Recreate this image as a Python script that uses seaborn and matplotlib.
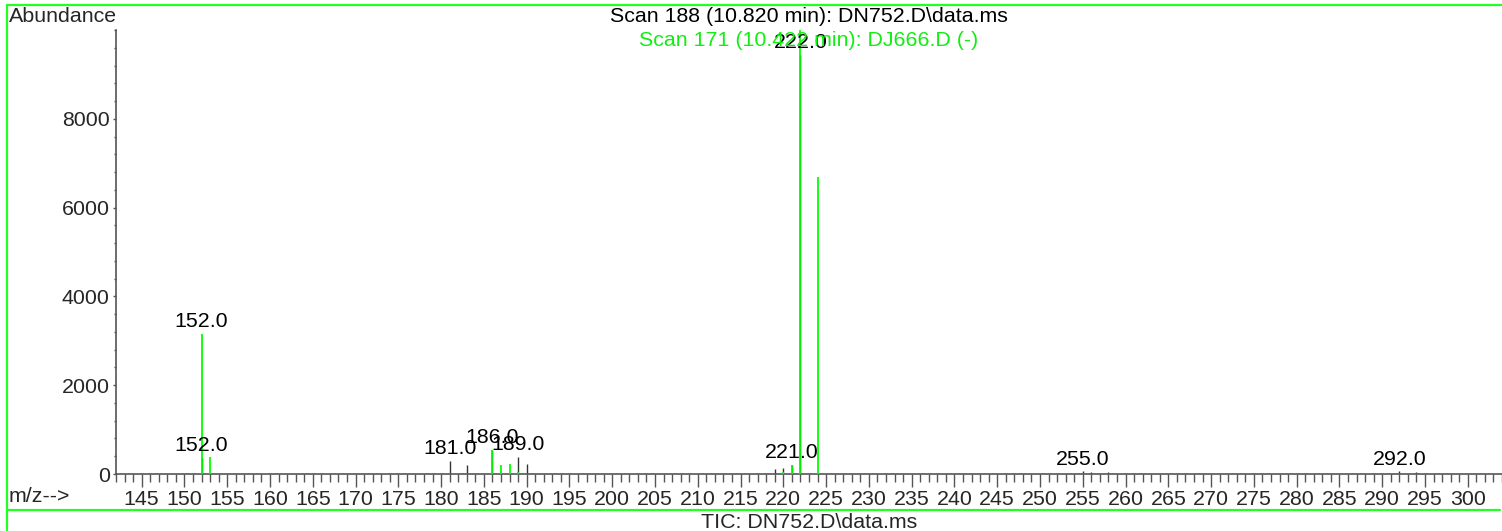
import numpy as np
import seaborn as sns
import matplotlib.pyplot as plt
from matplotlib.ticker import MultipleLocator
from matplotlib.lines import Line2D

# --- data ---
black_mz = [152, 181, 183, 186, 189, 190, 219, 220, 221, 222, 255, 256, 258, 292, 294]
black_ab = [370, 290, 200, 540, 380, 225, 110, 140, 210, 9440, 60, 55, 55, 60, 55]
green_mz = [152, 153, 186, 187, 188, 189, 220, 221, 222, 224]
green_ab = [3155, 383, 540, 195, 225, 50, 50, 210, 10600, 6690]

black_labels = [152, 181, 186, 189, 221, 222, 255, 292]
green_labels = [152]
y_ticks = [0, 2000, 4000, 6000, 8000]
x_ticks = np.arange(145, 301, 5)

title_main = "Scan 188 (10.820 min): DN752.D\\data.ms"
title_ref = "Scan 171 (10.422 min): DJ666.D (-)"
footer = "TIC: DN752.D\\data.ms"

sns.set_style("white")
plt.rcParams["font.family"] = ["Liberation Sans", "DejaVu Sans"]

W, H = 1502, 531
FS = 15.4
fig = plt.figure(figsize=(W / 100, H / 100), dpi=100)
ax = fig.add_axes([116 / W, (H - 474) / H, (W - 116) / W, (474 - 30) / H])

GREEN = "#00ff00"
DARK = "#333333"
AXC = "#555555"

ax.vlines(black_mz, 0, black_ab, color=DARK, lw=1.0, zorder=2)
ax.vlines(green_mz, 0, green_ab, color=GREEN, lw=1.3, zorder=3)

ax.set_xlim(142, 304)
ax.set_ylim(0, 10005)

ax.set_xticks(x_ticks)
ax.xaxis.set_minor_locator(MultipleLocator(1))
ax.set_yticks(y_ticks)
ax.yaxis.set_minor_locator(MultipleLocator(400))

ax.tick_params(axis="x", which="major", direction="out", length=9.5, width=1,
               color=AXC, labelsize=FS, pad=2, bottom=True)
ax.tick_params(axis="x", which="minor", direction="out", length=5.5, width=1,
               color=AXC, bottom=True)
ax.tick_params(axis="y", which="major", direction="out", length=2.5, width=1,
               color=AXC, labelsize=FS, pad=2, left=True)
ax.tick_params(axis="y", which="minor", direction="out", length=1.5, width=1,
               color=AXC, left=True)

sns.despine(ax=ax, top=True, right=True)
for side in ("left", "bottom"):
    ax.spines[side].set_color(AXC)
    ax.spines[side].set_linewidth(1.2)
ax.patch.set_alpha(0)

# peak labels
lookup_b = dict(zip(black_mz, black_ab))
lookup_g = dict(zip(green_mz, green_ab))
for mz in black_labels:
    ax.annotate(f"{mz:.1f}", (mz, lookup_b[mz]), xytext=(0, 2),
                textcoords="offset points", ha="center", va="bottom",
                fontsize=FS, color="black", annotation_clip=False, zorder=4)
for mz in green_labels:
    ax.annotate(f"{mz:.1f}", (mz, lookup_g[mz]), xytext=(0, 2),
                textcoords="offset points", ha="center", va="bottom",
                fontsize=FS, color="black", annotation_clip=False, zorder=4)

# titles and captions
fig.text(809 / W, 1 - 17 / H, title_main, ha="center", va="center",
         fontsize=FS, color="black")
fig.text(809 / W, 1 - 41 / H, title_ref, ha="center", va="center",
         fontsize=FS, color="#11ee11", zorder=1)
fig.text(9 / W, 1 - 17 / H, "Abundance", ha="left", va="center", fontsize=FS)
fig.text(9 / W, 1 - 497 / H, "m/z-->", ha="left", va="center", fontsize=FS)
fig.text(809 / W, 1 - 523 / H, footer, ha="center", va="center", fontsize=FS)

# green panel frame
frame = dict(color="#22ff22", lw=1.6, transform=fig.transFigure)
fig.add_artist(Line2D([7 / W, 1], [1 - 5 / H, 1 - 5 / H], **frame))
fig.add_artist(Line2D([7 / W, 7 / W], [0, 1 - 5 / H], **frame))
fig.add_artist(Line2D([7 / W, 1500 / W], [1 - 510 / H, 1 - 510 / H], **frame))

fig.savefig("out.png", dpi=100)
